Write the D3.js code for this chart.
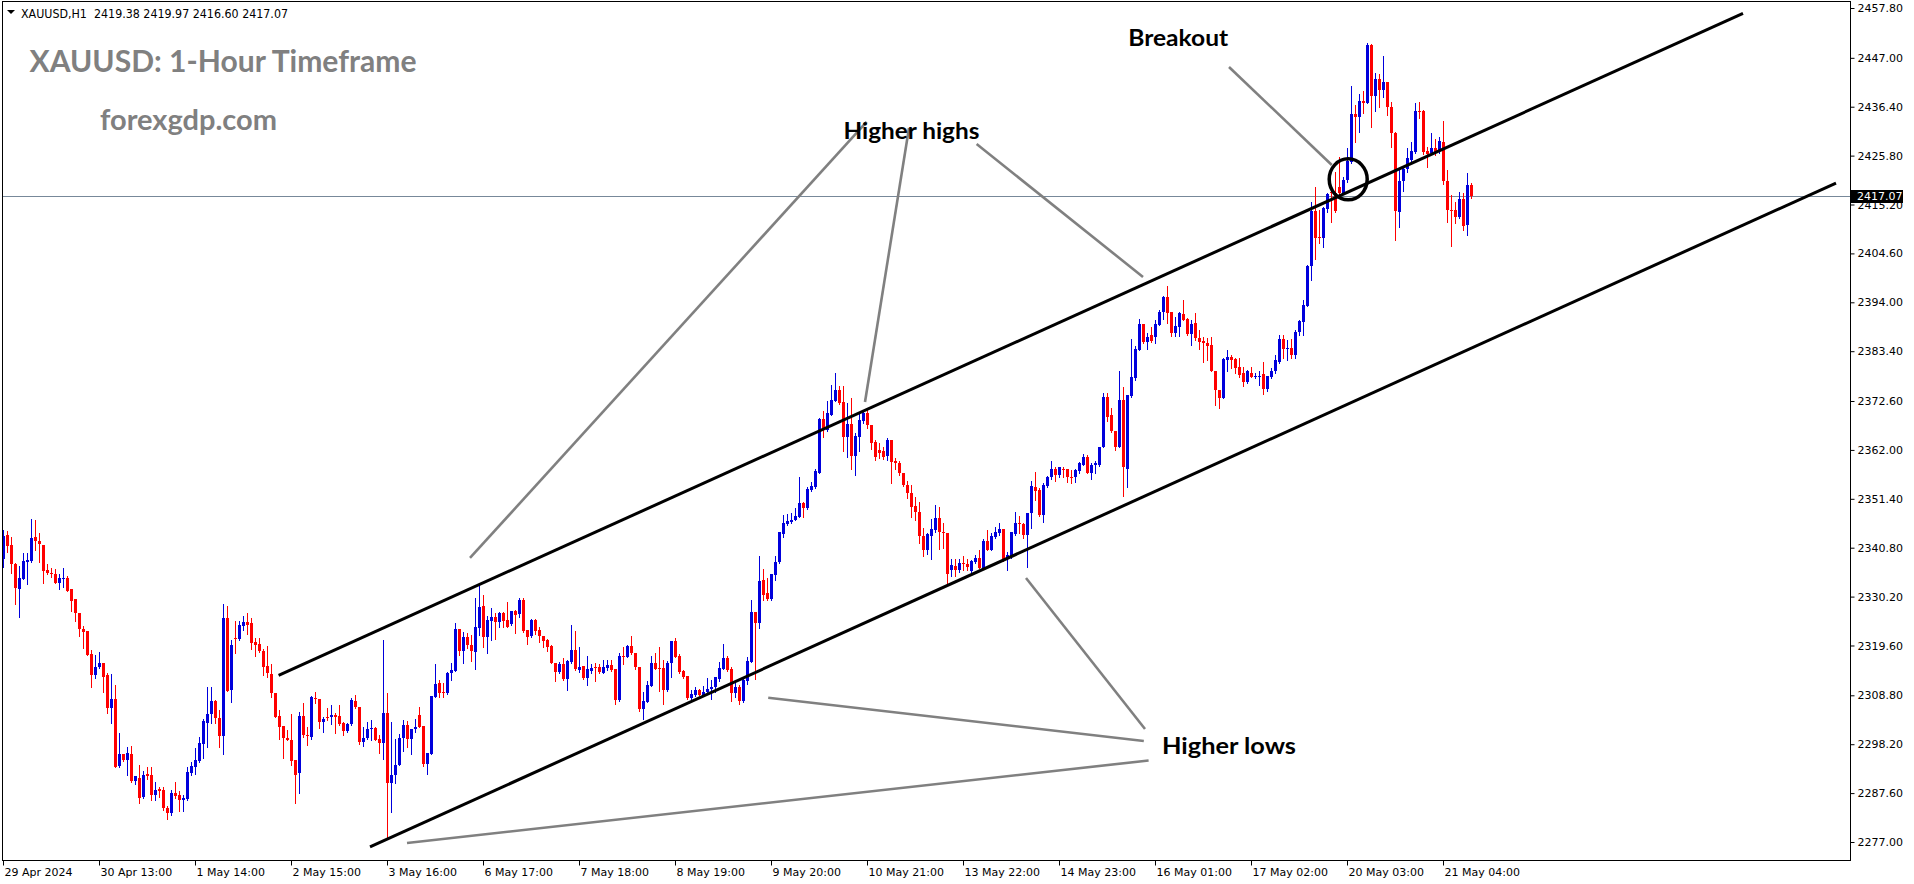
<!DOCTYPE html>
<html><head><meta charset="utf-8">
<script src="https://cdn.jsdelivr.net/npm/d3@7"></script>
<style>
html,body{margin:0;padding:0;background:#fff;overflow:hidden}
svg{display:block}
</style></head><body>
<script>
// ---------- DATA (XAUUSD H1) ----------
const opens = [
2338.3,2343.6,2341.4,2337.3,2331.9,2334.1,2337.8,2337.9,2343.1,2342.3,
2341.4,2335.9,2335.4,2335.1,2333.2,2334.1,2334.3,2331.8,2329.6,2326.6,
2323.1,2322.8,2317.8,2313.1,2315.0,2315.7,2313.1,2306.1,2308.0,2293.5,
2296.1,2294.8,2296.1,2290.2,2290.9,2286.8,2291.7,2291.5,2287.1,2288.4,
2288.3,2284.4,2283.2,2287.6,2287.2,2286.0,2286.3,2292.0,2293.3,2294.6,
2298.2,2302.9,2304.7,2307.6,2303.8,2300.0,2325.6,2310.0,2321.3,2320.9,
2323.8,2324.7,2324.4,2320.4,2319.9,2318.5,2315.2,2313.5,2309.4,2304.3,
2302.1,2299.5,2299.1,2294.8,2292.0,2304.3,2300.3,2299.7,2308.3,2308.1,
2303.1,2304.2,2304.2,2304.5,2304.3,2302.7,2301.1,2302.6,2307.5,2306.3,
2298.6,2299.5,2301.4,2301.7,2299.3,2298.4,2304.9,2289.7,2291.5,2293.7,
2299.5,2302.3,2299.4,2301.6,2304.5,2302.1,2293.9,2296.1,2308.5,2311.5,
2309.6,2309.2,2313.6,2314.1,2323.1,2318.3,2321.5,2319.6,2318.2,2323.3,
2328.2,2321.4,2325.0,2325.7,2324.8,2326.7,2325.1,2324.2,2327.1,2326.4,
2329.5,2322.9,2321.6,2325.1,2322.9,2321.6,2320.8,2319.5,2315.7,2313.9,
2315.6,2312.3,2316.1,2318.6,2314.3,2315.2,2312.6,2314.1,2314.9,2314.9,
2313.7,2314.7,2315.3,2314.6,2307.8,2317.3,2317.2,2319.5,2317.9,2315.0,
2305.8,2307.4,2310.9,2315.7,2314.7,2314.8,2309.9,2315.7,2320.6,2317.3,
2314.0,2313.0,2308.2,2308.9,2309.9,2308.9,2309.5,2310.1,2310.7,2312.4,
2314.6,2316.9,2314.6,2309.4,2310.7,2307.6,2312.0,2316.1,2326.9,2324.4,
2333.7,2330.9,2329.6,2334.9,2337.6,2343.8,2345.9,2346.4,2346.8,2347.5,
2350.4,2349.3,2353.3,2353.9,2357.1,2368.7,2366.3,2369.6,2372.7,2375.0,
2372.4,2364.7,2367.6,2360.7,2364.9,2368.3,2369.9,2367.5,2363.7,2361.9,
2361.8,2360.7,2364.2,2359.5,2359.2,2357.1,2354.4,2352.7,2349.8,2348.6,
2343.3,2340.2,2343.3,2344.6,2347.2,2344.1,2343.9,2336.0,2336.8,2336.0,
2337.4,2337.3,2335.7,2337.6,2338.5,2336.5,2342.3,2340.4,2343.2,2343.9,
2344.9,2338.3,2338.9,2343.8,2346.1,2345.9,2343.6,2348.3,2354.0,2353.3,
2347.9,2354.2,2356.1,2357.9,2356.6,2357.9,2357.9,2356.2,2356.1,2357.5,
2358.7,2360.4,2357.1,2358.7,2358.7,2362.6,2373.5,2369.6,2366.1,2362.7,
2372.8,2357.9,2373.7,2377.5,2383.7,2389.3,2385.5,2386.9,2386.4,2389.1,
2391.8,2395.2,2391.8,2387.4,2388.7,2391.5,2390.4,2387.1,2389.6,2386.2,
2385.7,2385.2,2384.7,2379.2,2375.0,2373.2,2381.5,2382.1,2381.7,2379.9,
2378.6,2376.8,2378.7,2377.9,2378.0,2378.4,2375.1,2377.9,2379.0,2381.1,
2386.0,2384.0,2384.2,2382.6,2387.6,2389.8,2393.2,2401.9,2413.7,2408.2,
2407.9,2414.2,2418.0,2417.6,2419.1,2417.8,2420.5,2424.5,2434.8,2434.1,
2437.7,2437.3,2449.8,2438.8,2442.3,2440.0,2441.8,2436.3,2430.6,2413.6,
2420.4,2422.8,2424.8,2426.6,2435.5,2435.5,2426.9,2426.4,2427.4,2426.9,
2428.8,2420.4,2414.0,2414.0,2412.4,2416.5,2410.8,2419.38];
const highs = [
2344.6,2344.4,2343.2,2337.4,2336.8,2339.6,2339.6,2347.0,2346.8,2343.9,
2341.4,2337.2,2336.3,2336.1,2335.1,2336.3,2334.7,2331.8,2329.7,2326.6,
2323.8,2322.8,2318.6,2317.5,2318.1,2315.8,2313.6,2313.4,2311.0,2300.7,
2296.1,2297.7,2297.8,2291.2,2293.7,2292.3,2293.3,2293.3,2290.1,2289.0,
2288.9,2284.8,2288.3,2290.1,2288.1,2287.2,2293.3,2294.4,2297.3,2299.8,
2303.6,2310.7,2310.5,2307.8,2305.6,2328.6,2328.2,2320.8,2324.9,2325.0,
2326.1,2326.6,2325.6,2321.2,2321.2,2318.8,2319.4,2315.5,2309.4,2305.6,
2302.1,2301.3,2304.8,2294.8,2305.2,2307.1,2301.9,2308.7,2309.6,2308.1,
2304.0,2306.0,2306.6,2304.9,2306.7,2303.1,2302.9,2308.3,2308.9,2306.3,
2302.0,2303.1,2303.5,2302.0,2300.2,2320.8,2309.2,2303.0,2299.4,2300.4,
2303.5,2303.3,2301.6,2303.6,2306.3,2302.1,2296.2,2308.6,2315.6,2312.1,
2311.5,2313.9,2315.7,2324.4,2323.2,2322.5,2322.4,2321.8,2330.0,2333.1,
2330.5,2325.9,2327.7,2326.6,2326.9,2326.9,2329.0,2327.1,2327.3,2329.8,
2330.0,2322.9,2325.4,2325.3,2323.7,2321.6,2320.9,2319.7,2315.9,2316.1,
2316.8,2316.5,2324.0,2322.7,2319.3,2315.2,2317.4,2315.6,2315.7,2315.6,
2316.5,2316.5,2316.5,2314.6,2317.9,2319.3,2319.6,2321.7,2318.0,2315.0,
2309.6,2311.8,2317.3,2318.0,2319.2,2316.5,2316.2,2320.6,2321.2,2317.7,
2314.3,2313.0,2309.9,2310.7,2310.1,2310.8,2312.5,2312.1,2312.8,2316.1,
2319.9,2317.4,2314.9,2311.8,2311.0,2312.5,2317.0,2329.5,2326.9,2339.0,
2336.1,2334.2,2335.2,2339.0,2344.3,2347.9,2348.1,2348.3,2349.3,2356.2,
2350.8,2354.0,2355.0,2357.8,2368.9,2370.5,2372.5,2376.1,2378.7,2375.9,
2375.9,2372.1,2373.2,2365.6,2369.9,2370.7,2370.7,2367.5,2364.1,2363.4,
2362.6,2364.5,2364.2,2360.2,2359.5,2357.1,2355.3,2354.4,2351.7,2350.8,
2345.0,2343.9,2347.0,2350.1,2349.7,2346.1,2343.9,2338.3,2338.3,2338.3,
2338.9,2338.3,2338.1,2339.2,2340.3,2342.6,2344.6,2343.9,2345.2,2346.1,
2344.9,2339.9,2344.1,2348.5,2347.7,2346.1,2348.4,2355.3,2357.3,2353.7,
2354.8,2356.3,2359.7,2358.4,2358.4,2358.4,2357.9,2357.6,2357.8,2359.4,
2361.1,2360.9,2359.1,2359.5,2362.7,2374.4,2374.3,2371.0,2366.1,2379.0,
2375.7,2373.9,2386.0,2384.5,2390.3,2389.4,2387.3,2388.6,2390.2,2392.3,
2395.4,2397.5,2391.8,2390.9,2392.0,2394.6,2390.5,2390.2,2391.6,2388.0,
2386.5,2386.2,2386.5,2379.2,2375.0,2381.9,2383.7,2382.6,2381.9,2381.9,
2379.9,2379.3,2379.9,2378.7,2379.2,2381.1,2378.0,2379.7,2382.6,2386.9,
2386.9,2385.8,2386.0,2388.0,2390.2,2394.4,2402.1,2415.8,2419.1,2414.0,
2414.6,2417.6,2419.1,2422.3,2425.6,2421.2,2427.4,2440.9,2436.8,2439.2,
2439.7,2450.3,2450.0,2443.8,2443.6,2447.4,2441.8,2437.5,2431.0,2422.7,
2423.4,2427.4,2428.8,2437.3,2437.5,2435.7,2427.7,2430.6,2429.5,2429.9,
2433.4,2422.7,2417.2,2415.8,2418.0,2417.6,2422.1,2419.97];
const lows = [
2336.7,2339.9,2335.4,2328.5,2325.7,2334.1,2332.9,2337.6,2340.3,2337.8,
2333.1,2335.2,2334.5,2333.1,2331.9,2332.2,2331.5,2327.1,2325.0,2321.7,
2319.0,2317.5,2310.7,2312.5,2314.8,2309.6,2304.9,2302.9,2293.3,2293.3,
2294.6,2291.5,2290.1,2289.5,2285.4,2286.5,2290.6,2286.1,2286.1,2286.8,
2283.9,2281.9,2282.9,2286.6,2283.7,2283.8,2286.1,2291.5,2291.7,2294.3,
2295.3,2297.5,2302.7,2302.7,2297.7,2296.0,2309.8,2307.3,2317.9,2320.8,
2323.0,2322.0,2318.9,2317.4,2318.1,2313.3,2312.7,2308.4,2304.2,2299.3,
2295.3,2299.1,2293.6,2285.5,2287.7,2299.7,2298.0,2299.4,2307.1,2301.8,
2300.8,2303.4,2302.6,2300.6,2302.4,2300.1,2300.8,2302.4,2306.0,2298.2,
2297.8,2299.3,2299.1,2299.2,2296.4,2294.9,2277.8,2283.4,2289.7,2293.6,
2296.8,2297.5,2296.1,2300.9,2301.9,2293.5,2291.7,2296.1,2308.4,2308.5,
2308.4,2309.0,2312.1,2314.1,2317.5,2315.7,2319.0,2316.2,2314.6,2321.9,
2319.2,2318.0,2320.8,2321.0,2323.7,2323.7,2323.7,2324.0,2322.4,2325.7,
2322.5,2319.9,2321.4,2322.1,2320.4,2319.2,2318.5,2315.7,2311.8,2313.6,
2312.1,2309.9,2315.7,2314.3,2313.9,2312.4,2311.0,2313.6,2312.0,2313.7,
2313.6,2314.3,2314.1,2306.9,2307.6,2315.6,2317.0,2317.8,2314.6,2305.5,
2303.7,2307.4,2310.8,2314.4,2309.8,2306.9,2309.8,2312.8,2317.0,2313.7,
2312.5,2308.1,2308.1,2308.6,2308.9,2308.6,2309.2,2308.1,2309.6,2311.8,
2314.5,2314.1,2307.6,2308.5,2306.9,2307.4,2311.2,2316.1,2312.3,2323.3,
2329.5,2329.5,2329.5,2333.8,2337.4,2343.2,2345.7,2346.1,2346.7,2347.4,
2347.4,2349.2,2353.2,2353.8,2356.9,2364.9,2366.2,2369.6,2372.5,2372.0,
2361.8,2360.4,2357.8,2356.6,2361.8,2367.9,2366.7,2362.1,2359.8,2360.2,
2360.0,2359.8,2354.9,2357.8,2356.6,2354.2,2351.5,2347.5,2346.7,2341.8,
2339.0,2339.4,2338.4,2344.3,2340.5,2340.7,2332.7,2334.7,2334.7,2335.6,
2336.0,2336.0,2335.6,2337.4,2336.3,2336.3,2340.2,2340.2,2342.8,2343.6,
2338.0,2336.0,2338.5,2343.6,2343.9,2342.8,2336.7,2345.0,2351.1,2347.7,
2346.4,2354.0,2355.8,2355.3,2356.2,2356.2,2355.1,2354.9,2355.1,2356.9,
2358.7,2356.9,2355.8,2356.9,2358.5,2362.6,2368.3,2365.8,2362.0,2362.6,
2351.9,2353.9,2373.5,2377.2,2383.7,2385.2,2383.8,2385.5,2385.1,2389.1,
2390.3,2389.6,2386.7,2386.7,2386.7,2390.2,2386.9,2384.7,2385.8,2383.8,
2381.1,2381.5,2379.0,2371.7,2371.0,2373.2,2379.2,2379.7,2378.6,2377.9,
2375.9,2376.6,2377.7,2377.5,2376.1,2374.1,2374.8,2377.5,2378.7,2380.9,
2381.9,2381.5,2381.9,2381.9,2386.9,2386.9,2393.2,2398.8,2403.3,2406.8,
2405.9,2413.6,2411.5,2413.6,2417.3,2417.5,2420.1,2424.3,2428.8,2431.0,
2435.0,2437.1,2431.9,2435.5,2436.4,2438.6,2434.6,2427.7,2407.4,2410.4,
2418.2,2422.3,2424.7,2426.4,2433.9,2426.1,2423.4,2426.1,2425.9,2426.4,
2419.6,2411.3,2406.2,2411.1,2412.2,2409.7,2408.6,2416.60];
const closes = [
2343.3,2341.2,2337.2,2332.1,2334.2,2337.9,2338.1,2343.0,2342.3,2341.5,
2335.8,2335.4,2335.0,2333.2,2334.2,2334.2,2331.5,2329.3,2326.6,2323.1,
2322.6,2317.5,2313.1,2315.0,2315.8,2312.8,2306.0,2308.0,2293.3,2296.1,
2294.8,2296.2,2290.2,2291.2,2286.5,2291.5,2291.3,2287.1,2288.3,2288.1,
2284.3,2283.2,2287.6,2287.0,2286.0,2286.6,2292.1,2293.5,2294.8,2298.4,
2303.3,2304.8,2307.6,2303.8,2300.0,2325.6,2309.8,2319.8,2320.9,2324.0,
2324.7,2324.1,2320.2,2319.6,2318.3,2315.0,2313.7,2309.4,2304.2,2302.0,
2299.5,2299.1,2294.6,2291.5,2304.3,2300.1,2300.0,2308.4,2308.1,2303.1,
2303.7,2303.9,2304.5,2304.2,2302.6,2301.1,2302.6,2307.8,2306.2,2298.6,
2299.6,2301.6,2301.7,2299.2,2298.4,2304.9,2289.7,2291.6,2293.8,2299.5,
2302.4,2299.4,2301.6,2301.9,2302.0,2293.9,2296.2,2308.6,2311.3,2309.4,
2309.2,2313.7,2314.3,2323.1,2318.3,2321.5,2319.6,2318.3,2323.6,2328.0,
2321.4,2325.1,2325.7,2324.8,2326.6,2325.0,2323.7,2327.1,2326.2,2329.5,
2322.7,2321.5,2325.1,2322.8,2321.7,2320.6,2319.3,2315.9,2313.9,2315.6,
2312.3,2316.2,2318.6,2314.4,2314.9,2312.6,2314.5,2314.7,2314.7,2313.9,
2314.9,2315.3,2314.3,2307.8,2317.3,2317.2,2319.5,2317.9,2314.9,2305.9,
2307.6,2311.0,2315.7,2314.6,2314.5,2309.9,2315.9,2320.6,2317.2,2313.9,
2312.8,2308.2,2309.1,2309.9,2308.9,2309.6,2310.2,2310.7,2312.7,2314.8,
2316.9,2314.3,2309.4,2310.7,2307.6,2312.1,2316.3,2326.9,2324.5,2333.6,
2330.5,2329.6,2335.1,2337.8,2344.1,2346.2,2346.5,2346.8,2347.7,2350.4,
2349.5,2353.5,2354.2,2357.4,2368.7,2366.5,2369.9,2372.8,2375.0,2372.1,
2364.9,2367.6,2360.7,2365.0,2368.5,2369.9,2367.4,2363.4,2360.5,2361.4,
2360.5,2364.2,2359.3,2359.1,2357.1,2354.4,2352.6,2349.7,2348.6,2343.3,
2340.2,2343.7,2344.8,2347.2,2344.1,2343.9,2335.1,2337.1,2336.0,2337.4,
2337.3,2336.7,2337.9,2338.5,2336.5,2342.3,2340.4,2343.4,2344.3,2344.9,
2338.3,2339.2,2344.1,2346.2,2345.9,2343.6,2348.3,2354.2,2353.2,2347.9,
2354.4,2356.2,2357.9,2356.6,2358.2,2357.6,2356.1,2356.1,2357.6,2359.1,
2360.4,2357.1,2358.7,2359.1,2362.6,2373.5,2369.2,2366.0,2362.7,2372.8,
2358.2,2373.9,2377.9,2383.8,2389.3,2385.5,2386.5,2385.7,2389.3,2392.0,
2395.2,2391.6,2387.4,2388.9,2391.6,2390.2,2387.1,2389.4,2386.2,2385.5,
2385.1,2384.5,2379.2,2375.0,2373.3,2381.6,2382.2,2381.5,2379.7,2378.2,
2376.8,2379.0,2377.9,2378.0,2378.1,2375.3,2378.0,2379.2,2381.5,2386.0,
2383.8,2384.2,2382.6,2387.6,2390.0,2393.4,2401.9,2413.7,2407.9,2407.9,
2414.4,2417.5,2417.6,2413.8,2417.6,2420.5,2424.6,2434.8,2434.1,2437.7,
2437.3,2449.8,2438.8,2442.3,2440.0,2441.8,2436.3,2430.6,2413.9,2420.4,
2423.0,2425.2,2426.9,2435.5,2435.3,2426.6,2426.1,2427.4,2426.6,2429.0,
2420.4,2414.0,2413.9,2412.4,2416.5,2410.5,2419.4,2417.07];

const timeTickBars   = [0,24,48,72,96,120,144,168,192,216,240,264,288,312,336,360];
const timeTickLabels = ["29 Apr 2024","30 Apr 13:00","1 May 14:00","2 May 15:00","3 May 16:00",
  "6 May 17:00","7 May 18:00","8 May 19:00","9 May 20:00","10 May 21:00","13 May 22:00",
  "14 May 23:00","16 May 01:00","17 May 02:00","20 May 03:00","21 May 04:00"];
const priceTicks = [2457.80,2447.00,2436.40,2425.80,2415.20,2404.60,2394.00,2383.40,2372.60,
  2362.00,2351.40,2340.80,2330.20,2319.60,2308.80,2298.20,2287.60,2277.00];
const symbolName = "XAUUSD,H1";
const lastBar = [2419.38, 2419.97, 2416.60, 2417.07];
const bidPrice = 2417.07;

// trend-line annotations in (bar index, price)
const channelLines = [
  [[68.9, 2313.14], [435.0, 2456.61]],
  [[91.75, 2275.92], [458.25, 2419.86]]
];
const pointerLines = [
  [[116.75, 2338.57], [215.9, 2433.09]],
  [[215.5, 2372.39], [226.5, 2431.79]],
  [[243.4, 2428.31], [285.0, 2399.49]],
  [[306.5, 2445.01], [332.2, 2423.77]],
  [[255.75, 2334.23], [285.5, 2301.50]],
  [[191.3, 2308.28], [285.2, 2298.90]],
  [[101.0, 2276.78], [286.4, 2294.67]]
];
const breakoutCircle = [336.3, 2420.66];
const annotationTexts = ["Higher highs", "Breakout", "Higher lows"];
const annotationAnchors = [[210.1, 2429.33], [281.3, 2449.56], [289.75, 2296.08]];

// ---------- LAYOUT ----------
const W = 1914, H = 884;
const frame = {left: 2.5, top: 1.5, right: 1850.5, bottom: 860.5};
const x = d3.scaleLinear().domain([0, 460]).range([3, 1843]);
const y = d3.scaleLinear().domain([2277.0, 2457.8]).range([842, 8]);
const BULL = "#0000dc", BEAR = "#ff0000";
const AXIS_FONT = "'DejaVu Sans', Verdana, sans-serif";

const svg = d3.select("body").append("svg").attr("width", W).attr("height", H)
  .attr("viewBox", `0 0 ${W} ${H}`);
svg.append("rect").attr("width", W).attr("height", H).attr("fill", "#fff");

svg.append("defs").append("clipPath").attr("id", "plot")
  .append("rect").attr("x", 3).attr("y", 2).attr("width", 1847).attr("height", 858);

const plot = svg.append("g").attr("clip-path", "url(#plot)");

// bid line
const yBid = Math.round(y(bidPrice)) + 0.5;
plot.append("line").attr("x1", 3).attr("x2", 1850).attr("y1", yBid).attr("y2", yBid)
  .attr("stroke", "#778899").attr("stroke-width", 1);

// candles
const bars = d3.range(opens.length).map(i => ({i, o: opens[i], h: highs[i], l: lows[i], c: closes[i]}));
const cg = plot.append("g").attr("shape-rendering", "crispEdges");
const candle = cg.selectAll("g").data(bars).join("g")
  .attr("fill", d => d.c >= d.o ? BULL : BEAR);
candle.append("rect")
  .attr("x", d => Math.round(x(d.i)))
  .attr("width", 1)
  .attr("y", d => Math.round(y(d.h)))
  .attr("height", d => Math.max(1, Math.round(y(d.l)) - Math.round(y(d.h)) + 1));
candle.append("rect")
  .attr("x", d => Math.round(x(d.i)) - 1)
  .attr("width", 3)
  .attr("y", d => Math.round(y(Math.max(d.o, d.c))))
  .attr("height", d => Math.max(1, Math.round(y(Math.min(d.o, d.c))) - Math.round(y(Math.max(d.o, d.c)))));

// channel lines
const lineGen = d3.line().x(d => x(d[0])).y(d => y(d[1]));
plot.selectAll("path.chan").data(channelLines).join("path").attr("class", "chan")
  .attr("d", lineGen).attr("stroke", "#000").attr("stroke-width", 3).attr("fill", "none");
// pointer lines
plot.selectAll("path.ptr").data(pointerLines).join("path").attr("class", "ptr")
  .attr("d", lineGen).attr("stroke", "#808080").attr("stroke-width", 2.6).attr("fill", "none");
// breakout circle
plot.append("ellipse").attr("cx", x(breakoutCircle[0])).attr("cy", y(breakoutCircle[1]))
  .attr("rx", 19).attr("ry", 20.5).attr("fill", "none").attr("stroke", "#000").attr("stroke-width", 3.5);

// annotation texts
const annWidths = [136, 100, 134];
svg.selectAll("text.ann").data(annotationTexts).join("text").attr("class", "ann")
  .attr("x", (d, k) => x(annotationAnchors[k][0]))
  .attr("y", (d, k) => y(annotationAnchors[k][1]))
  .attr("font-family", "Lato, 'Open Sans', sans-serif").attr("font-weight", 700)
  .attr("font-size", 23).attr("fill", "#000")
  .attr("textLength", (d, k) => annWidths[k]).attr("lengthAdjust", "spacingAndGlyphs")
  .text(d => d);

// titles
svg.append("text").attr("x", 29.5).attr("y", 72).attr("font-family", "Lato, 'Open Sans', sans-serif")
  .attr("font-weight", 700).attr("font-size", 30).attr("fill", "#808080")
  .attr("textLength", 387).attr("lengthAdjust", "spacingAndGlyphs").text("XAUUSD: 1-Hour Timeframe");
svg.append("text").attr("x", 100).attr("y", 130).attr("font-family", "Lato, 'Open Sans', sans-serif")
  .attr("font-weight", 700).attr("font-size", 29).attr("fill", "#808080")
  .attr("textLength", 177).attr("lengthAdjust", "spacingAndGlyphs").text("forexgdp.com");

// header
svg.append("path").attr("d", "M7,10 L15,10 L11,14 Z").attr("fill", "#000");
svg.append("text").attr("x", 21).attr("y", 17.5).attr("font-family", AXIS_FONT).attr("font-size", 11.5)
  .attr("fill", "#000").style("white-space", "pre")
  .attr("textLength", 267).attr("lengthAdjust", "spacingAndGlyphs")
  .text(symbolName + "  " + lastBar.map(v => v.toFixed(2)).join(" "));

// frame
svg.append("rect").attr("x", frame.left).attr("y", frame.top)
  .attr("width", frame.right - frame.left).attr("height", frame.bottom - frame.top)
  .attr("fill", "none").attr("stroke", "#000").attr("stroke-width", 1);

// price axis
const yAxis = svg.append("g").attr("transform", `translate(${frame.right},0)`)
  .call(d3.axisRight(y).tickValues(priceTicks).tickSize(4).tickPadding(3).tickFormat(d => d.toFixed(2)));
yAxis.select(".domain").remove();
yAxis.selectAll("text").attr("font-family", AXIS_FONT).attr("font-size", 11).attr("fill", "#000");
yAxis.selectAll("line").attr("stroke", "#000");

// time axis
const xAxis = svg.append("g").attr("transform", `translate(0,${frame.bottom})`)
  .call(d3.axisBottom(x).tickValues(timeTickBars).tickSize(5).tickPadding(3)
    .tickFormat((d, k) => timeTickLabels[k]));
xAxis.select(".domain").remove();
xAxis.selectAll("text").attr("font-family", AXIS_FONT).attr("font-size", 11).attr("fill", "#000")
  .attr("text-anchor", "start").attr("x", 1);
xAxis.selectAll("line").attr("stroke", "#000");

// bid label (covers the 2415.20 tick label, as in the terminal)
svg.append("rect").attr("x", 1851).attr("y", yBid - 6.5).attr("width", 52).attr("height", 13).attr("fill", "#000");
svg.append("text").attr("x", 1857).attr("y", yBid).attr("dy", "0.35em").attr("font-family", AXIS_FONT)
  .attr("font-size", 11).attr("fill", "#fff").text(bidPrice.toFixed(2));
</script>
</body></html>
